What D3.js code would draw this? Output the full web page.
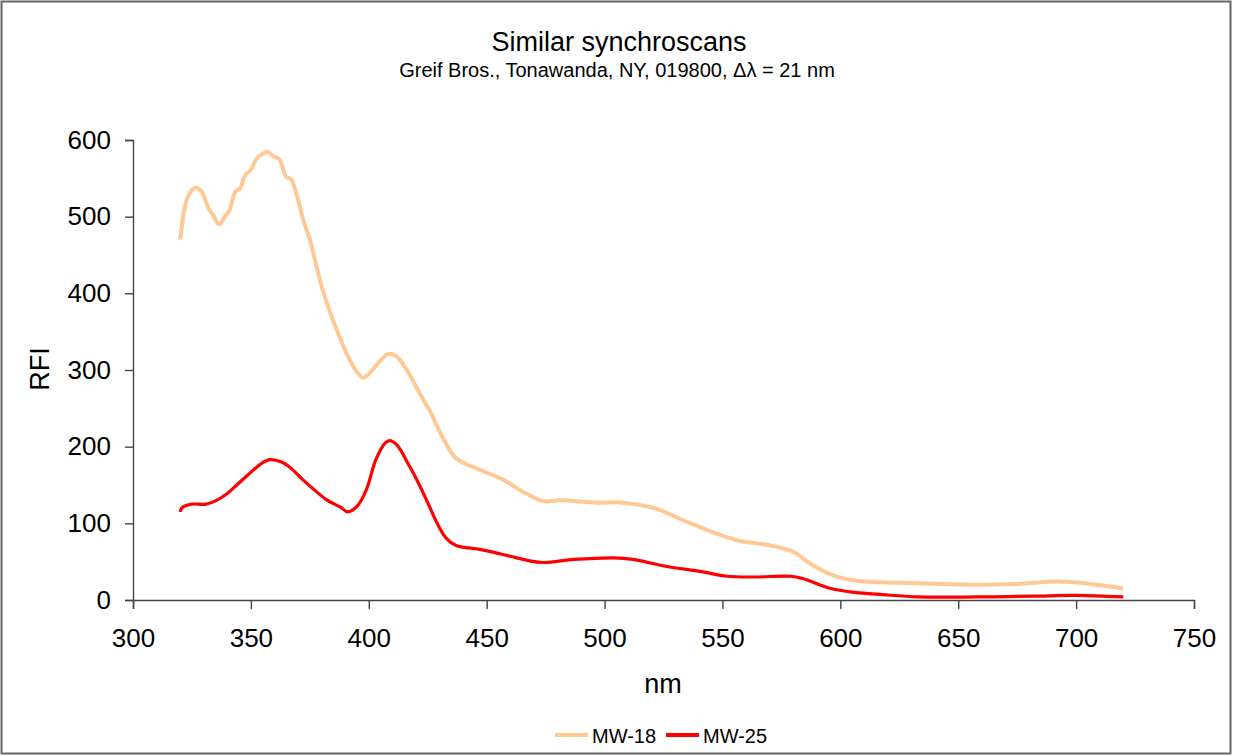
<!DOCTYPE html>
<html>
<head>
<meta charset="utf-8">
<script src="https://cdn.jsdelivr.net/npm/d3@7"></script>
<style>
  body { margin: 0; background: #fff; }
  svg { font-family: "Liberation Sans", Arial, sans-serif; }
</style>
</head>
<body>
<svg id="chart" width="1233" height="756"></svg>
<script>
// data
var mw18Nm  = [320, 321.5, 323, 326.5, 329, 332, 334, 336.5, 339, 341, 343.5, 345.5, 347.5, 350, 352.5, 354.5, 357, 359.5, 362, 365, 367, 370, 372, 375, 378, 380.5, 383.5, 386.5, 390.5, 394, 397.5, 401, 404.5, 408.5, 412, 416.5, 421.5, 426, 431.5, 437, 447, 457, 465.5, 474, 481, 497, 508, 521, 535, 549, 557.5, 569, 580, 587, 597, 607, 618, 632.5, 658, 675, 692, 706, 720];
var mw18Rfi = [470, 504, 524, 538, 533, 511, 502, 490, 500, 509, 533, 537, 554, 561, 576, 581, 585, 579, 575, 552, 549, 522, 498, 470, 433, 404, 376, 352, 322, 302, 290, 298, 311, 321, 317, 298, 270, 246, 211, 185, 170, 157, 141, 129, 130, 127, 127, 120, 102, 85, 77, 72, 63, 48, 32, 25, 23, 22, 20, 21, 24, 21, 15];

var mw25Nm  = [320, 321, 325, 331, 336, 340, 344, 348, 354, 358, 363, 367, 372, 376, 382, 388, 391, 395, 399, 403, 407, 409, 412, 417, 421, 425, 429, 433, 437, 447, 456, 460, 473, 487, 504, 512, 526, 541, 552, 563, 579, 584, 596, 606, 618, 633, 658, 682, 700, 720];
var mw25Rfi = [115, 121, 125, 125, 131, 139, 150, 161, 177, 183, 180, 172, 157, 146, 131, 121, 115, 122, 144, 183, 205, 208, 202, 176, 153, 127, 100, 80, 71, 66, 60, 57, 49, 53, 55, 53, 44, 37, 31, 30, 31, 28, 15, 10, 7, 4, 4, 5, 6, 4];

var seriesNames = ["MW-18", "MW-25"];
var seriesColors = ["#ffc996", "#ff0000"];
var xTicks = [300, 350, 400, 450, 500, 550, 600, 650, 700, 750];
var yTicks = [0, 100, 200, 300, 400, 500, 600];

var svg = d3.select("#chart");

// outer frame
svg.append("rect")
    .attr("x", 1.5).attr("y", 1.5)
    .attr("width", 1229).attr("height", 752)
    .attr("fill", "none")
    .attr("stroke", "#666")
    .attr("stroke-width", 2);

var x = d3.scaleLinear().domain([300, 750]).range([133, 1194]);
var y = d3.scaleLinear().domain([0, 600]).range([600, 140]);

// titles
svg.append("text")
    .attr("x", 619).attr("y", 51)
    .attr("text-anchor", "middle")
    .style("font-size", "27px")
    .text("Similar synchroscans");

svg.append("text")
    .attr("x", 617).attr("y", 77)
    .attr("text-anchor", "middle")
    .style("font-size", "20px")
    .text("Greif Bros., Tonawanda, NY, 019800, \u0394\u03bb = 21 nm");

// axes
var xAxis = svg.append("g")
    .attr("transform", "translate(0,600)")
    .call(d3.axisBottom(x).tickValues(xTicks).tickSize(9).tickPadding(20));

var yAxis = svg.append("g")
    .attr("transform", "translate(133,0)")
    .call(d3.axisLeft(y).tickValues(yTicks).tickSize(8).tickPadding(14));

[xAxis, yAxis].forEach(function(a) {
    a.select(".domain").attr("stroke", "#444").attr("stroke-width", 1.4);
    a.selectAll(".tick line").attr("stroke", "#444").attr("stroke-width", 1.4);
    a.selectAll(".tick text")
        .attr("fill", "#000")
        .style("font-family", "Liberation Sans, Arial, sans-serif")
        .style("font-size", "26px");
});

svg.append("text")
    .attr("x", 663).attr("y", 693)
    .attr("text-anchor", "middle")
    .style("font-size", "27px")
    .text("nm");

svg.append("text")
    .attr("transform", "translate(49,369) rotate(-90)")
    .attr("text-anchor", "middle")
    .style("font-size", "27px")
    .text("RFI");

// lines
var line = d3.line()
    .x(function(d) { return x(d[0]); })
    .y(function(d) { return y(d[1]); })
    .curve(d3.curveCatmullRom);

var mw18 = d3.zip(mw18Nm, mw18Rfi);
var mw25 = d3.zip(mw25Nm, mw25Rfi);

svg.append("path")
    .datum(mw18)
    .attr("d", line)
    .attr("fill", "none")
    .attr("stroke", seriesColors[0])
    .attr("stroke-width", 4)
    .attr("stroke-linejoin", "round");

svg.append("path")
    .datum(mw25)
    .attr("d", line)
    .attr("fill", "none")
    .attr("stroke", seriesColors[1])
    .attr("stroke-width", 3.2)
    .attr("stroke-linejoin", "round");

// legend
var legendX = [555, 666];
var legend = svg.selectAll(".legend")
    .data(seriesNames)
    .enter().append("g")
    .attr("class", "legend")
    .attr("transform", function(d, i) { return "translate(" + legendX[i] + ",735)"; });

legend.append("line")
    .attr("x1", 0).attr("x2", 33)
    .attr("y1", 0).attr("y2", 0)
    .attr("stroke", function(d, i) { return seriesColors[i]; })
    .attr("stroke-width", 4);

legend.append("text")
    .attr("x", 37).attr("y", 8)
    .style("font-size", "20px")
    .text(function(d) { return d; });
</script>
</body>
</html>
